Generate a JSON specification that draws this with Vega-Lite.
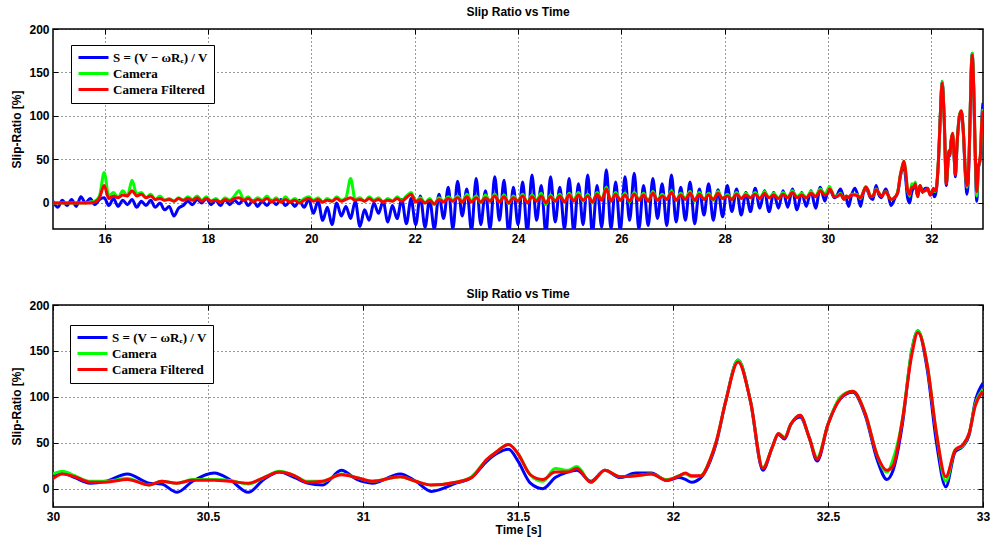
{
"$schema": "https://vega.github.io/schema/vega-lite/v6.json",
"background": "white",
"padding": {"left": 10, "top": 5, "right": 2, "bottom": 2},
"spacing": 42,
"datasets": {"d": [
{"t":15.00,"b":2,"g":0,"r":0},{"t":15.09,"b":-5,"g":0,"r":0},{"t":15.18,"b":3,"g":0,"r":0},{"t":15.27,"b":-3,"g":0,"r":0},{"t":15.36,"b":4,"g":0,"r":0},{"t":15.45,"b":-4,"g":0,"r":0},{"t":15.54,"b":7,"g":0,"r":0},{"t":15.63,"b":0,"g":0,"r":0},{"t":15.72,"b":5,"g":1,"r":0},{"t":15.81,"b":-2,"g":2,"r":1},{"t":15.90,"b":4,"g":8,"r":6},{"t":15.99,"b":6,"g":35,"r":20},
{"t":16.08,"b":-3,"g":8,"r":5},{"t":16.17,"b":5,"g":12,"r":8},{"t":16.26,"b":-4,"g":6,"r":6},{"t":16.35,"b":3,"g":14,"r":9},{"t":16.44,"b":-2,"g":8,"r":8},{"t":16.53,"b":4,"g":26,"r":14},{"t":16.62,"b":-5,"g":10,"r":8},{"t":16.71,"b":2,"g":12,"r":10},{"t":16.80,"b":-3,"g":6,"r":6},{"t":16.89,"b":3,"g":10,"r":8},{"t":16.98,"b":-5,"g":4,"r":4},
{"t":17.07,"b":0,"g":8,"r":5},{"t":17.16,"b":-8,"g":3,"r":3},{"t":17.25,"b":-4,"g":5,"r":4},{"t":17.34,"b":-15,"g":2,"r":2},{"t":17.43,"b":-6,"g":6,"r":5},{"t":17.52,"b":-3,"g":3,"r":3},{"t":17.61,"b":2,"g":7,"r":5},{"t":17.70,"b":-2,"g":4,"r":3},{"t":17.79,"b":4,"g":8,"r":6},{"t":17.88,"b":0,"g":3,"r":2},{"t":17.97,"b":5,"g":7,"r":5},
{"t":18.06,"b":-2,"g":2,"r":2},{"t":18.15,"b":3,"g":5,"r":3},{"t":18.24,"b":-3,"g":1,"r":1},{"t":18.33,"b":4,"g":6,"r":4},{"t":18.42,"b":-2,"g":3,"r":2},{"t":18.51,"b":3,"g":8,"r":5},{"t":18.60,"b":-1,"g":14,"r":6},{"t":18.69,"b":4,"g":4,"r":3},{"t":18.78,"b":-3,"g":7,"r":5},{"t":18.87,"b":3,"g":2,"r":1},{"t":18.96,"b":-4,"g":6,"r":4},
{"t":19.05,"b":2,"g":3,"r":2},{"t":19.14,"b":-3,"g":8,"r":5},{"t":19.23,"b":3,"g":2,"r":1},{"t":19.32,"b":-2,"g":6,"r":4},{"t":19.41,"b":4,"g":1,"r":1},{"t":19.50,"b":-3,"g":7,"r":4},{"t":19.59,"b":2,"g":2,"r":1},{"t":19.68,"b":-4,"g":5,"r":3},{"t":19.77,"b":3,"g":1,"r":0},{"t":19.86,"b":-5,"g":5,"r":3},{"t":19.95,"b":4,"g":7,"r":5},
{"t":20.04,"b":-12,"g":3,"r":2},{"t":20.13,"b":2,"g":6,"r":4},{"t":20.22,"b":-20,"g":1,"r":1},{"t":20.31,"b":-5,"g":5,"r":3},{"t":20.40,"b":-25,"g":2,"r":2},{"t":20.49,"b":0,"g":7,"r":5},{"t":20.58,"b":-15,"g":3,"r":2},{"t":20.67,"b":-4,"g":6,"r":4},{"t":20.76,"b":-18,"g":28,"r":6},{"t":20.85,"b":2,"g":4,"r":3},{"t":20.94,"b":-27,"g":6,"r":4},
{"t":21.03,"b":-8,"g":2,"r":2},{"t":21.12,"b":-20,"g":7,"r":5},{"t":21.21,"b":0,"g":3,"r":2},{"t":21.30,"b":-12,"g":6,"r":4},{"t":21.39,"b":2,"g":1,"r":1},{"t":21.48,"b":-22,"g":5,"r":3},{"t":21.57,"b":-3,"g":2,"r":2},{"t":21.66,"b":-18,"g":7,"r":5},{"t":21.75,"b":4,"g":3,"r":2},{"t":21.84,"b":-24,"g":8,"r":6},{"t":21.93,"b":5,"g":12,"r":10},
{"t":22.02,"b":-25,"g":2,"r":1},{"t":22.11,"b":8,"g":6,"r":4},{"t":22.20,"b":-28,"g":0,"r":0},{"t":22.29,"b":4,"g":5,"r":3},{"t":22.38,"b":-30,"g":-2,"r":-1},{"t":22.47,"b":10,"g":6,"r":4},{"t":22.56,"b":-18,"g":2,"r":1},{"t":22.65,"b":18,"g":7,"r":5},{"t":22.74,"b":-30,"g":3,"r":2},{"t":22.83,"b":25,"g":8,"r":6},{"t":22.92,"b":-15,"g":1,"r":1},
{"t":23.01,"b":16,"g":10,"r":7},{"t":23.10,"b":-32,"g":2,"r":1},{"t":23.19,"b":28,"g":8,"r":6},{"t":23.28,"b":-25,"g":0,"r":1},{"t":23.37,"b":14,"g":9,"r":6},{"t":23.46,"b":-30,"g":2,"r":2},{"t":23.55,"b":30,"g":10,"r":8},{"t":23.64,"b":-20,"g":1,"r":1},{"t":23.73,"b":26,"g":9,"r":7},{"t":23.82,"b":-35,"g":-1,"r":0},{"t":23.91,"b":18,"g":8,"r":6},
{"t":24.00,"b":-25,"g":2,"r":2},{"t":24.09,"b":24,"g":10,"r":8},{"t":24.18,"b":-34,"g":0,"r":0},{"t":24.27,"b":32,"g":9,"r":7},{"t":24.36,"b":-20,"g":3,"r":2},{"t":24.45,"b":20,"g":11,"r":8},{"t":24.54,"b":-35,"g":-2,"r":0},{"t":24.63,"b":30,"g":9,"r":7},{"t":24.72,"b":-22,"g":2,"r":2},{"t":24.81,"b":18,"g":10,"r":8},{"t":24.90,"b":-30,"g":1,"r":1},{"t":24.99,"b":28,"g":11,"r":9},
{"t":25.08,"b":-33,"g":3,"r":2},{"t":25.17,"b":22,"g":12,"r":9},{"t":25.26,"b":-25,"g":2,"r":3},{"t":25.35,"b":32,"g":10,"r":8},{"t":25.44,"b":-35,"g":0,"r":1},{"t":25.53,"b":20,"g":12,"r":10},{"t":25.62,"b":-28,"g":4,"r":3},{"t":25.71,"b":38,"g":18,"r":16},{"t":25.80,"b":-30,"g":2,"r":2},{"t":25.89,"b":24,"g":12,"r":10},{"t":25.98,"b":-32,"g":3,"r":3},
{"t":26.07,"b":30,"g":11,"r":9},{"t":26.16,"b":-20,"g":1,"r":2},{"t":26.25,"b":34,"g":12,"r":10},{"t":26.34,"b":-30,"g":4,"r":3},{"t":26.43,"b":20,"g":11,"r":9},{"t":26.52,"b":-26,"g":2,"r":2},{"t":26.61,"b":28,"g":13,"r":11},{"t":26.70,"b":-18,"g":3,"r":3},{"t":26.79,"b":22,"g":10,"r":8},{"t":26.88,"b":-26,"g":4,"r":4},{"t":26.97,"b":32,"g":14,"r":12},
{"t":27.06,"b":-22,"g":3,"r":3},{"t":27.15,"b":18,"g":11,"r":9},{"t":27.24,"b":-20,"g":5,"r":4},{"t":27.33,"b":24,"g":13,"r":11},{"t":27.42,"b":-24,"g":2,"r":3},{"t":27.51,"b":16,"g":12,"r":10},{"t":27.60,"b":-14,"g":4,"r":4},{"t":27.69,"b":22,"g":11,"r":9},{"t":27.78,"b":-20,"g":3,"r":4},{"t":27.87,"b":15,"g":13,"r":11},{"t":27.96,"b":-16,"g":5,"r":5},
{"t":28.05,"b":20,"g":10,"r":8},{"t":28.14,"b":-10,"g":4,"r":4},{"t":28.23,"b":16,"g":12,"r":10},{"t":28.32,"b":-14,"g":5,"r":5},{"t":28.41,"b":12,"g":11,"r":9},{"t":28.50,"b":-10,"g":6,"r":6},{"t":28.59,"b":17,"g":12,"r":10},{"t":28.68,"b":-6,"g":5,"r":5},{"t":28.77,"b":14,"g":13,"r":11},{"t":28.86,"b":-10,"g":6,"r":6},{"t":28.95,"b":12,"g":11,"r":9},
{"t":29.04,"b":-6,"g":5,"r":5},{"t":29.13,"b":14,"g":12,"r":10},{"t":29.22,"b":-5,"g":6,"r":6},{"t":29.31,"b":16,"g":14,"r":12},{"t":29.40,"b":-8,"g":7,"r":6},{"t":29.49,"b":12,"g":11,"r":9},{"t":29.58,"b":-4,"g":6,"r":6},{"t":29.67,"b":14,"g":13,"r":11},{"t":29.76,"b":-6,"g":8,"r":7},{"t":29.85,"b":18,"g":16,"r":14},{"t":29.94,"b":2,"g":10,"r":9},
{"t":30.00,"b":15,"g":16,"r":11},{"t":30.03,"b":17,"g":19,"r":16},{"t":30.07,"b":12,"g":14,"r":13},{"t":30.12,"b":6,"g":8,"r":7},{"t":30.17,"b":8,"g":8,"r":7},{"t":30.24,"b":16,"g":11,"r":10},{"t":30.31,"b":6,"g":4,"r":4},{"t":30.35,"b":5,"g":8,"r":8},{"t":30.40,"b":-4,"g":6,"r":6},{"t":30.45,"b":8,"g":10,"r":9},
{"t":30.52,"b":17,"g":10,"r":9},{"t":30.57,"b":10,"g":9,"r":8},{"t":30.63,"b":-4,"g":5,"r":6},{"t":30.68,"b":10,"g":12,"r":12},{"t":30.73,"b":18,"g":19,"r":18},{"t":30.78,"b":12,"g":14,"r":14},{"t":30.82,"b":6,"g":8,"r":7},{"t":30.87,"b":4,"g":8,"r":8},{"t":30.93,"b":20,"g":16,"r":15},{"t":30.98,"b":10,"g":12,"r":12},
{"t":31.03,"b":6,"g":8,"r":8},{"t":31.12,"b":16,"g":13,"r":13},{"t":31.17,"b":8,"g":8,"r":8},{"t":31.22,"b":-3,"g":4,"r":4},{"t":31.30,"b":6,"g":7,"r":7},{"t":31.35,"b":12,"g":13,"r":12},{"t":31.40,"b":30,"g":32,"r":32},{"t":31.43,"b":38,"g":40,"r":40},{"t":31.47,"b":43,"g":48,"r":48},{"t":31.50,"b":30,"g":38,"r":38},
{"t":31.54,"b":6,"g":15,"r":15},{"t":31.58,"b":0,"g":8,"r":10},{"t":31.62,"b":12,"g":22,"r":18},{"t":31.66,"b":18,"g":20,"r":18},{"t":31.69,"b":20,"g":24,"r":22},{"t":31.735,"b":8,"g":7,"r":7},{"t":31.78,"b":20,"g":20,"r":20},{"t":31.83,"b":12,"g":13,"r":13},{"t":31.88,"b":17,"g":14,"r":14},{"t":31.93,"b":17,"g":16,"r":16},{"t":31.98,"b":9,"g":10,"r":9},
{"t":32.02,"b":12,"g":14,"r":14},{"t":32.04,"b":10,"g":16,"r":17},{"t":32.06,"b":7,"g":13,"r":14},{"t":32.09,"b":12,"g":14,"r":14},{"t":32.12,"b":30,"g":32,"r":32},{"t":32.14,"b":50,"g":52,"r":52},{"t":32.17,"b":95,"g":95,"r":95},{"t":32.21,"b":140,"g":140,"r":138},{"t":32.25,"b":95,"g":95,"r":95},{"t":32.29,"b":20,"g":23,"r":22},
{"t":32.32,"b":45,"g":45,"r":45},{"t":32.34,"b":59,"g":60,"r":60},{"t":32.36,"b":54,"g":56,"r":55},{"t":32.38,"b":70,"g":70,"r":70},{"t":32.41,"b":78,"g":80,"r":80},{"t":32.44,"b":55,"g":55,"r":55},{"t":32.465,"b":30,"g":34,"r":32},{"t":32.50,"b":70,"g":70,"r":70},{"t":32.54,"b":98,"g":100,"r":98},{"t":32.58,"b":105,"g":106,"r":106},
{"t":32.62,"b":80,"g":82,"r":82},{"t":32.66,"b":30,"g":35,"r":35},{"t":32.69,"b":10,"g":18,"r":20},{"t":32.71,"b":20,"g":32,"r":25},{"t":32.74,"b":70,"g":75,"r":75},{"t":32.77,"b":150,"g":150,"r":145},{"t":32.79,"b":172,"g":172,"r":170},{"t":32.82,"b":130,"g":135,"r":135},{"t":32.85,"b":50,"g":60,"r":60},{"t":32.88,"b":2,"g":8,"r":13},
{"t":32.91,"b":40,"g":42,"r":42},{"t":32.935,"b":46,"g":47,"r":48},{"t":32.955,"b":58,"g":60,"r":60},{"t":32.975,"b":95,"g":92,"r":90},{"t":33.00,"b":115,"g":108,"r":106}
]},
"config": {
  "font": "Liberation Sans",
  "view": {"stroke": "black", "strokeWidth": 1.5},
  "title": {"fontSize": 12, "fontWeight": "bold", "color": "black", "offset": 4, "anchor": "middle", "font": "Liberation Sans"},
  "axis": {"labelFont": "Liberation Sans", "labelFontSize": 12, "labelFontWeight": "bold", "labelColor": "black",
           "titleFont": "Liberation Sans", "titleFontSize": 12, "titleFontWeight": "bold", "titleColor": "black",
           "tickColor": "black", "tickSize": -5, "tickWidth": 1, "labelPadding": 9, "domain": false,
           "gridColor": "#111111", "gridDash": [1, 3], "gridOpacity": 0.85, "labelFlush": false,
           "labelExpr": "'' + datum.value"},
  "axisY": {"titlePadding": 5},
  "axisX": {"titlePadding": 2},
  "legend": {"fillColor": "white", "strokeColor": "black", "strokeWidth": 1, "padding": 6, "cornerRadius": 0,
             "symbolType": "M-1,0H5", "symbolStrokeWidth": 3, "symbolSize": 100,
             "labelFont": "Liberation Serif", "labelFontSize": 13, "labelFontWeight": "bold", "labelColor": "black",
             "rowPadding": 2, "labelOffset": 23}
},
"resolve": {"scale": {"color": "independent"}, "legend": {"color": "independent"}},
"vconcat": [
 {
  "width": 930, "height": 200,
  "title": "Slip Ratio vs Time",
  "data": {"name": "d"},
  "layer": [
   {
    "transform": [{"fold": ["b", "g", "r"], "as": ["s", "v"]}],
    "mark": {"type": "line", "strokeWidth": 3, "clip": true, "interpolate": "monotone"},
    "encoding": {
     "x": {"field": "t", "type": "quantitative", "scale": {"domain": [15, 33], "nice": false, "zero": false},
           "axis": {"values": [16, 18, 20, 22, 24, 26, 28, 30, 32], "title": null}},
     "y": {"field": "v", "type": "quantitative", "scale": {"domain": [-30, 200], "nice": false},
           "axis": {"values": [0, 50, 100, 150, 200], "title": "Slip-Ratio [%]"}},
     "color": {"field": "s", "type": "nominal",
               "scale": {"domain": ["b", "g", "r"], "range": ["#0000ff", "#00ff00", "#ff0000"]},
               "legend": {"title": null, "orient": "none", "legendX": 18, "legendY": 16,
                          "labelExpr": "datum.label == 'b' ? 'S = (V − ωRₑ) / V' : datum.label == 'g' ? 'Camera' : 'Camera Filtered'"}}
    }
   },
   {
    "mark": {"type": "point", "opacity": 0},
    "encoding": {
     "x": {"field": "t", "type": "quantitative", "axis": {"orient": "top", "values": [16, 18, 20, 22, 24, 26, 28, 30, 32], "labels": false, "grid": false, "title": null}},
     "y": {"field": "b", "type": "quantitative", "axis": {"orient": "right", "values": [0, 50, 100, 150, 200], "labels": false, "grid": false, "title": null}}
    }
   }
  ],
  "resolve": {"axis": {"x": "independent", "y": "independent"}}
 },
 {
  "width": 930, "height": 202,
  "title": {"text": "Slip Ratio vs Time", "offset": -2},
  "data": {"name": "d"},
  "transform": [{"filter": "datum.t >= 30"}],
  "layer": [
   {
    "transform": [{"fold": ["b", "g", "r"], "as": ["s", "v"]}],
    "mark": {"type": "line", "strokeWidth": 3, "clip": true, "interpolate": "monotone"},
    "encoding": {
     "x": {"field": "t", "type": "quantitative", "scale": {"domain": [30, 33], "nice": false, "zero": false},
           "axis": {"values": [30, 30.5, 31, 31.5, 32, 32.5, 33], "title": "Time [s]"}},
     "y": {"field": "v", "type": "quantitative", "scale": {"domain": [-20, 200], "nice": false},
           "axis": {"values": [0, 50, 100, 150, 200], "title": "Slip-Ratio [%]"}},
     "color": {"field": "s", "type": "nominal",
               "scale": {"domain": ["b", "g", "r"], "range": ["#0000ff", "#00ff00", "#ff0000"]},
               "legend": {"title": null, "orient": "none", "legendX": 17, "legendY": 20,
                          "labelExpr": "datum.label == 'b' ? 'S = (V − ωRₑ) / V' : datum.label == 'g' ? 'Camera' : 'Camera Filtered'"}}
    }
   },
   {
    "mark": {"type": "point", "opacity": 0},
    "encoding": {
     "x": {"field": "t", "type": "quantitative", "axis": {"orient": "top", "values": [30, 30.5, 31, 31.5, 32, 32.5, 33], "labels": false, "grid": false, "title": null}},
     "y": {"field": "b", "type": "quantitative", "axis": {"orient": "right", "values": [0, 50, 100, 150, 200], "labels": false, "grid": false, "title": null}}
    }
   }
  ],
  "resolve": {"axis": {"x": "independent", "y": "independent"}}
 }
]
}
